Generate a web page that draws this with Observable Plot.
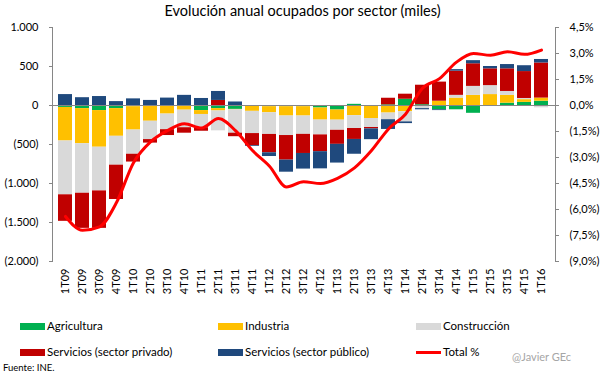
<!DOCTYPE html>
<html>
<head>
<meta charset="utf-8">
<script src="https://cdn.jsdelivr.net/npm/d3@7"></script>
<script src="https://cdn.jsdelivr.net/npm/@observablehq/plot@0.6"></script>
<style>
  body { margin: 0; background: #fff; font-family: Lato, "Open Sans", sans-serif; }
  #wrap { position: relative; width: 605px; height: 378px; overflow: hidden; background: #fff; }
  #chart { position: absolute; left: 0; top: 0; }
  #title { position: absolute; top: 2px; left: 0; width: 605px; text-align: center; font-size: 14.5px; color: #000; z-index: 2; }
  .lg { position: absolute; font-size: 11.5px; color: #000; line-height: 14px; white-space: nowrap; }
  .sw { position: absolute; width: 25px; height: 7px; }
  .ln { position: absolute; width: 25px; height: 3px; background: #FF0000; }
</style>
</head>
<body>
<div id="wrap">
  <div id="chart"></div>
  <div id="title">Evolución anual ocupados por sector (miles)</div>
  <div id="legend"></div>
  <div class="lg" style="left:3px;top:361px;font-size:9.5px;">Fuente: INE.</div>
  <div class="lg" style="left:512px;top:350px;font-size:11px;color:#A6A6A6;">@Javier GEc</div>
</div>
<script>
const quarters = ["1T09","2T09","3T09","4T09","1T10","2T10","3T10","4T10","1T11","2T11","3T11","4T11",
  "1T12","2T12","3T12","4T12","1T13","2T13","3T13","4T13","1T14","2T14","3T14","4T14",
  "1T15","2T15","3T15","4T15","1T16"];
const agricultura = [-25,-40,-65,-40,-15,-12,-10,-10,-65,-40,-50,-5,-15,-15,-15,-32,-58,15,-12,8,80,10,-55,-55,-100,-5,30,40,55];
const industria   = [-430,-450,-470,-355,-300,-190,-100,-50,-50,-30,-5,-70,-78,-120,-120,-155,-130,-130,-155,-97,-80,0,55,95,130,140,100,35,40];
const construccion= [-690,-635,-560,-370,-310,-235,-200,-225,-170,-255,-300,-285,-278,-250,-235,-190,-130,-165,-115,-85,-130,-40,0,35,115,115,50,15,-30];
const servPrivado = [-340,-450,-480,-440,-100,-45,-75,-70,-45,65,-45,-155,-235,-315,-245,-215,-180,-140,-18,85,65,250,245,310,290,215,290,345,450];
const servPublico = [140,100,115,50,85,65,95,130,90,115,45,-10,-48,-155,-200,-220,-240,-190,-138,-125,-22,-15,-10,20,40,30,55,75,45];
const totalPct    = [-6.4,-7.2,-7.0,-5.6,-3.3,-2.1,-1.45,-1.05,-1.3,-0.75,-1.45,-2.6,-3.5,-4.7,-4.4,-4.5,-4.2,-3.6,-2.6,-1.35,-0.5,1.0,1.55,2.5,3.0,2.9,3.1,2.95,3.2];

const sectors = ["Agricultura","Industria","Construcción","Servicios (sector privado)","Servicios (sector público)"];
const sectorColors = ["#00B050","#FFC000","#D9D9D9","#C00000","#1F497D"];
const leftTicks = [1000,500,0,-500,-1000,-1500,-2000];
const rightTicks = [4.5,3,1.5,0,-1.5,-3,-4.5,-6,-7.5,-9];

const K = 1000 / 4.5; // % -> thousands on the shared y scale

const series = [agricultura, industria, construccion, servPrivado, servPublico];
const rows = sectors.flatMap((s, i) => quarters.map((q, j) => ({q, s, v: series[i][j]})));
const lineRows = quarters.map((q, j) => ({q, v: totalPct[j] * K}));

const fmtLeft = v => {
  const a = Math.abs(Math.round(v));
  const t = d3.format(",")(a).replace(/,/g, ".");
  return v < 0 ? "(" + t + ")" : t;
};
const fmtRight = v => {
  const p = Math.round(v / K * 10) / 10;
  const t = Math.abs(p).toFixed(1).replace(".", ",") + "%";
  return p < 0 ? "(" + t + ")" : t;
};

const plot = Plot.plot({
  width: 605,
  height: 305,
  marginTop: 27,
  marginBottom: 44,
  marginLeft: 52,
  marginRight: 50,
  style: {fontFamily: "Lato, 'Open Sans', sans-serif", fontSize: "11px", color: "#000", background: "transparent"},
  x: {domain: quarters, paddingInner: 0.15, paddingOuter: 0.075, axis: null, label: null},
  y: {domain: [-2000, 1000], axis: null, label: null},
  color: {domain: sectors, range: sectorColors},
  marks: [
    Plot.barY(rows, Plot.stackY({x: "q", y: "v", fill: "s"})),
    Plot.ruleY([0], {stroke: "#868686", strokeWidth: 1.2}),
    Plot.frame({anchor: "left", stroke: "#868686"}),
    Plot.frame({anchor: "right", stroke: "#868686"}),
    Plot.line(lineRows, {x: "q", y: "v", stroke: "#FF0000", strokeWidth: 3, curve: "monotone-x"}),
    Plot.axisY({anchor: "left", label: null, ticks: leftTicks, tickFormat: fmtLeft, tickSize: 3, tickPadding: 11, stroke: "#868686"}),
    Plot.axisY({anchor: "right", label: null, ticks: rightTicks.map(p => p * K), tickFormat: fmtRight, tickSize: 3, tickPadding: 11, stroke: "#868686"}),
    Plot.axisX({anchor: "bottom", label: null, tickRotate: -90, tickSize: 0, tickPadding: 7})
  ]
});
document.getElementById("chart").appendChild(plot);

const legendItems = [
  {label: sectors[0], color: sectorColors[0], x: 20, y: 326, type: "sw"},
  {label: sectors[1], color: sectorColors[1], x: 218, y: 326, type: "sw"},
  {label: sectors[2], color: sectorColors[2], x: 416, y: 326, type: "sw"},
  {label: sectors[3], color: sectorColors[3], x: 20, y: 352, type: "sw"},
  {label: sectors[4], color: sectorColors[4], x: 218, y: 352, type: "sw"},
  {label: "Total %", color: "#FF0000", x: 416, y: 352, type: "ln"}
];
const lg = document.getElementById("legend");
for (const it of legendItems) {
  const s = document.createElement("div");
  s.className = it.type;
  s.style.left = it.x + "px";
  s.style.top = (it.type === "sw" ? it.y - 3.5 : it.y - 1.5) + "px";
  s.style.background = it.color;
  lg.appendChild(s);
  const t = document.createElement("div");
  t.className = "lg";
  t.style.left = (it.x + 27) + "px";
  t.style.top = (it.y - 7) + "px";
  t.textContent = it.label;
  lg.appendChild(t);
}
</script>
</body>
</html>
